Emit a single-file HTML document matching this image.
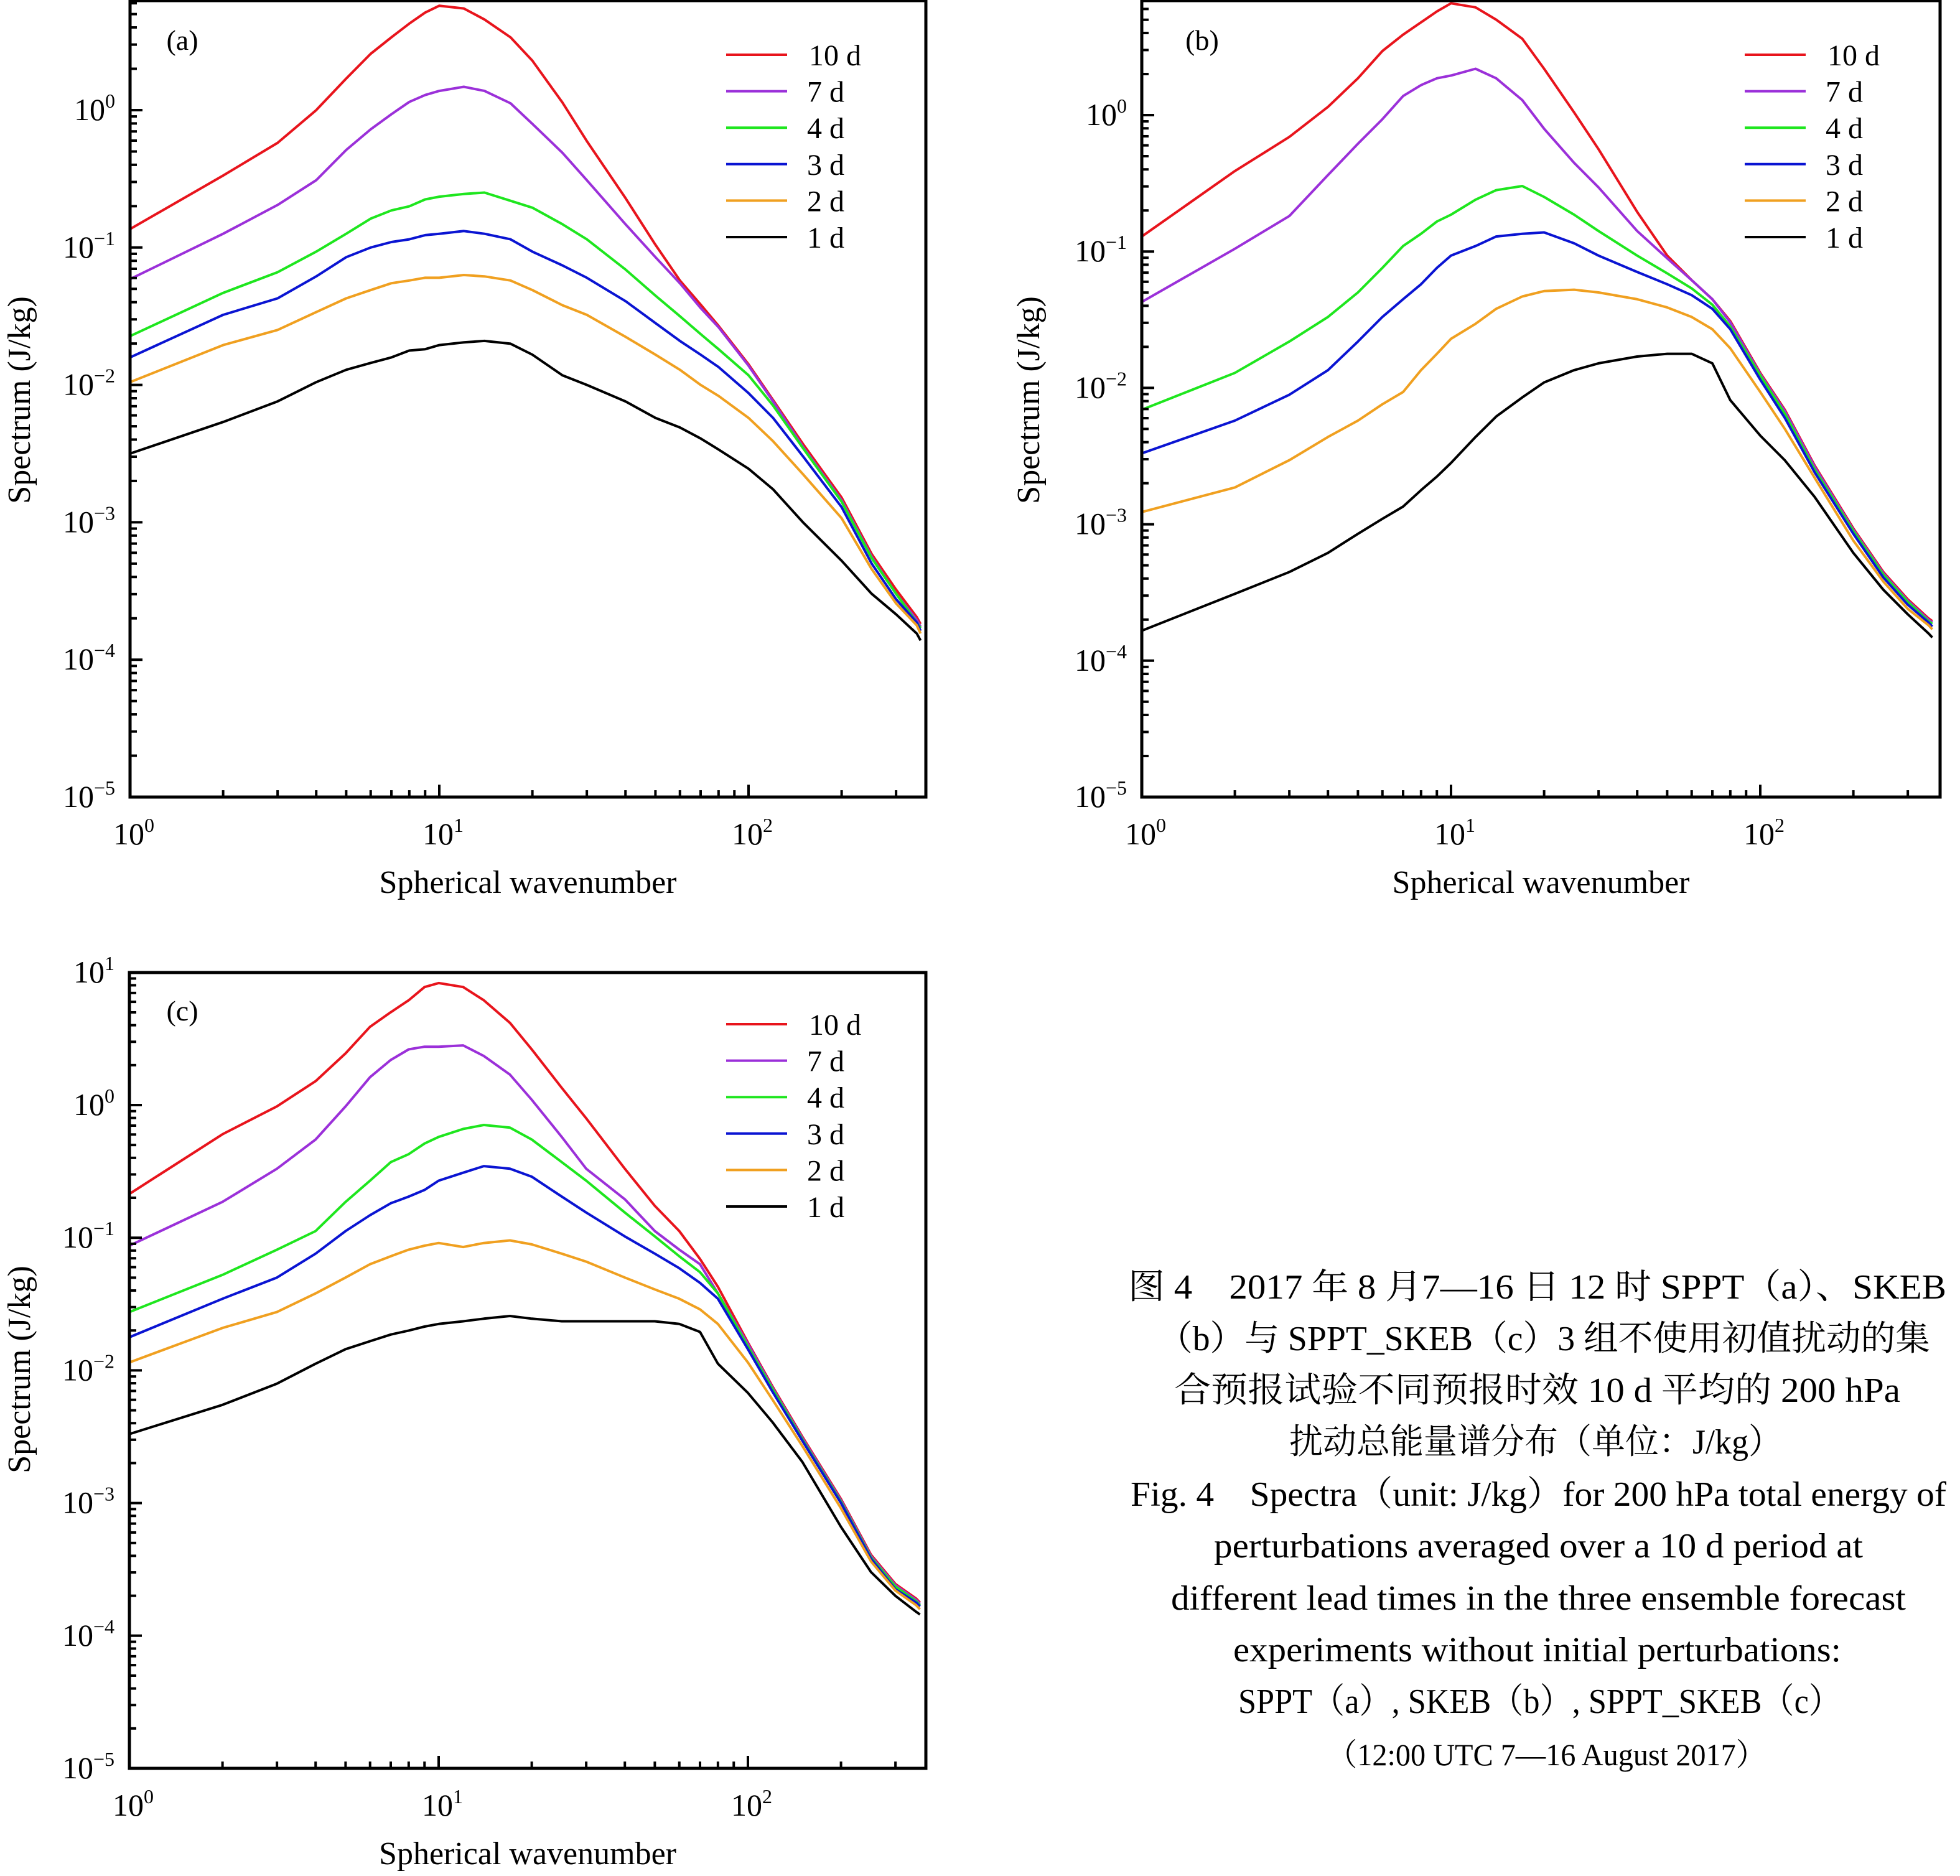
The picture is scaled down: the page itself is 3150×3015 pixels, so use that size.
<!DOCTYPE html>
<html><head><meta charset="utf-8"><style>
html,body{margin:0;padding:0;background:#fff;}
svg{display:block;}
svg, text{font-family:"Liberation Serif","Times New Roman","Noto Serif CJK SC",serif;fill:#000;}
</style></head>
<body>
<svg id="fig" width="3150" height="3015" viewBox="0 0 3150 3015" xmlns="http://www.w3.org/2000/svg" font-family="Liberation Serif, Noto Serif CJK SC, serif">
<g id="caption" font-size="56">
<text x="1813" y="2087" textLength="1315" lengthAdjust="spacingAndGlyphs">图 4　2017 年 8 月7—16 日 12 时 SPPT（a）、SKEB</text>
<text x="1861" y="2170" textLength="1241" lengthAdjust="spacingAndGlyphs">（b）与 SPPT_SKEB（c）3 组不使用初值扰动的集</text>
<text x="1887" y="2253" textLength="1167" lengthAdjust="spacingAndGlyphs">合预报试验不同预报时效 10 d 平均的 200 hPa</text>
<text x="2072" y="2336" textLength="792" lengthAdjust="spacingAndGlyphs">扰动总能量谱分布（单位：J/kg）</text>
<text x="1817" y="2420" textLength="1311" lengthAdjust="spacingAndGlyphs">Fig. 4　Spectra（unit: J/kg）for 200 hPa total energy of</text>
<text x="1951" y="2503" textLength="1043" lengthAdjust="spacingAndGlyphs">perturbations averaged over a 10 d period at</text>
<text x="1882" y="2587" textLength="1181" lengthAdjust="spacingAndGlyphs">different lead times in the three ensemble forecast</text>
<text x="1982" y="2670" textLength="977" lengthAdjust="spacingAndGlyphs">experiments without initial perturbations:</text>
<text x="1990" y="2753" textLength="969" lengthAdjust="spacingAndGlyphs">SPPT（a）, SKEB（b）, SPPT_SKEB（c）</text>
<text x="2133" y="2837" font-size="50" textLength="705" lengthAdjust="spacingAndGlyphs">（12:00 UTC 7—16 August 2017）</text>
</g>
</svg>
<script>
const K = [1,2,3,4,5,6,7,8,9,10,12,14,17,20,25,30,40,50,60,70,80,100,120,150,200,250,300,350,360];
const seriesNames = ["10 d","7 d","4 d","3 d","2 d","1 d"];
const seriesColors = ["#e8141c","#9b30d9","#1ee61e","#0a14d2","#f0a020","#000000"];
// log10 spectrum values, panel (a) SPPT
const a10 = [-0.866,-0.476,-0.238,0,0.23,0.41,0.53,0.63,0.71,0.76,0.74,0.66,0.53,0.36,0.056,-0.225,-0.64,-0.98,-1.24,-1.415,-1.57,-1.85,-2.11,-2.43,-2.82,-3.23,-3.49,-3.69,-3.74];
const a7 = [-1.23,-0.90,-0.69,-0.51,-0.29,-0.14,-0.03,0.06,0.11,0.14,0.17,0.14,0.05,-0.10,-0.31,-0.51,-0.83,-1.07,-1.26,-1.44,-1.58,-1.86,-2.12,-2.45,-2.84,-3.25,-3.52,-3.71,-3.76];
const a4 = [-1.645,-1.33,-1.18,-1.03,-0.90,-0.79,-0.73,-0.70,-0.65,-0.63,-0.61,-0.60,-0.66,-0.71,-0.83,-0.94,-1.16,-1.35,-1.50,-1.63,-1.74,-1.93,-2.15,-2.46,-2.85,-3.26,-3.52,-3.73,-3.77];
const a3 = [-1.80,-1.49,-1.37,-1.21,-1.07,-1.00,-0.96,-0.94,-0.91,-0.90,-0.88,-0.90,-0.94,-1.03,-1.13,-1.22,-1.39,-1.55,-1.68,-1.78,-1.87,-2.06,-2.24,-2.52,-2.89,-3.30,-3.56,-3.73,-3.79];
const a2 = [-1.98,-1.71,-1.60,-1.47,-1.37,-1.31,-1.26,-1.24,-1.22,-1.22,-1.20,-1.21,-1.24,-1.31,-1.42,-1.49,-1.65,-1.78,-1.89,-2.00,-2.08,-2.24,-2.41,-2.65,-2.97,-3.34,-3.59,-3.75,-3.81];
const a1 = [-2.50,-2.27,-2.12,-1.98,-1.89,-1.84,-1.80,-1.75,-1.74,-1.71,-1.69,-1.68,-1.70,-1.78,-1.93,-2.00,-2.12,-2.24,-2.31,-2.39,-2.47,-2.61,-2.76,-3.00,-3.28,-3.52,-3.67,-3.81,-3.86];
// panel (b) SKEB
const b10 = [-0.89,-0.41,-0.16,0.06,0.27,0.47,0.59,0.68,0.76,0.82,0.79,0.70,0.56,0.34,0.02,-0.25,-0.71,-1.03,-1.21,-1.35,-1.51,-1.89,-2.16,-2.57,-3.03,-3.35,-3.55,-3.69,-3.71];
const b7 = [-1.37,-0.98,-0.74,-0.44,-0.21,-0.03,0.14,0.22,0.27,0.29,0.34,0.27,0.11,-0.10,-0.35,-0.53,-0.85,-1.05,-1.21,-1.35,-1.52,-1.90,-2.17,-2.58,-3.04,-3.36,-3.56,-3.70,-3.72];
const b4 = [-2.16,-1.89,-1.66,-1.48,-1.30,-1.12,-0.96,-0.87,-0.78,-0.73,-0.62,-0.55,-0.52,-0.60,-0.73,-0.85,-1.03,-1.16,-1.27,-1.39,-1.55,-1.91,-2.19,-2.60,-3.05,-3.37,-3.57,-3.71,-3.73];
const b3 = [-2.48,-2.24,-2.05,-1.87,-1.66,-1.48,-1.35,-1.24,-1.12,-1.03,-0.96,-0.89,-0.87,-0.86,-0.94,-1.03,-1.15,-1.24,-1.32,-1.42,-1.57,-1.94,-2.22,-2.62,-3.07,-3.39,-3.59,-3.72,-3.75];
const b2 = [-2.91,-2.73,-2.53,-2.36,-2.24,-2.12,-2.03,-1.87,-1.75,-1.64,-1.53,-1.42,-1.33,-1.29,-1.28,-1.30,-1.35,-1.41,-1.48,-1.57,-1.71,-2.03,-2.30,-2.66,-3.12,-3.42,-3.62,-3.74,-3.77];
const b1 = [-3.78,-3.51,-3.35,-3.21,-3.07,-2.96,-2.87,-2.75,-2.65,-2.55,-2.36,-2.21,-2.07,-1.96,-1.87,-1.82,-1.77,-1.75,-1.75,-1.82,-2.09,-2.35,-2.53,-2.80,-3.21,-3.48,-3.66,-3.80,-3.83];
// panel (c) SPPT_SKEB
const c10 = [-0.67,-0.22,-0.01,0.18,0.39,0.59,0.70,0.79,0.89,0.92,0.89,0.79,0.62,0.42,0.13,-0.10,-0.48,-0.76,-0.95,-1.16,-1.37,-1.79,-2.12,-2.50,-2.97,-3.39,-3.61,-3.72,-3.75];
const c7 = [-1.06,-0.73,-0.48,-0.26,-0.01,0.21,0.34,0.42,0.44,0.44,0.45,0.37,0.23,0.04,-0.24,-0.48,-0.71,-0.95,-1.09,-1.20,-1.42,-1.80,-2.13,-2.51,-2.98,-3.40,-3.62,-3.73,-3.76];
const c4 = [-1.56,-1.28,-1.09,-0.95,-0.73,-0.57,-0.43,-0.37,-0.29,-0.24,-0.18,-0.15,-0.17,-0.26,-0.43,-0.57,-0.81,-0.99,-1.14,-1.26,-1.42,-1.82,-2.14,-2.52,-2.99,-3.41,-3.63,-3.74,-3.77];
const c3 = [-1.75,-1.46,-1.30,-1.12,-0.95,-0.83,-0.74,-0.69,-0.64,-0.57,-0.51,-0.46,-0.48,-0.54,-0.69,-0.81,-0.99,-1.12,-1.23,-1.34,-1.46,-1.84,-2.16,-2.53,-3.00,-3.42,-3.65,-3.75,-3.78];
const c2 = [-1.94,-1.68,-1.56,-1.42,-1.30,-1.20,-1.14,-1.09,-1.06,-1.04,-1.07,-1.04,-1.02,-1.05,-1.12,-1.18,-1.30,-1.39,-1.46,-1.54,-1.65,-1.94,-2.22,-2.57,-3.04,-3.44,-3.66,-3.77,-3.80];
const c1 = [-2.48,-2.26,-2.10,-1.95,-1.84,-1.78,-1.73,-1.70,-1.67,-1.65,-1.63,-1.61,-1.59,-1.61,-1.63,-1.63,-1.63,-1.63,-1.65,-1.71,-1.95,-2.17,-2.39,-2.69,-3.18,-3.52,-3.70,-3.82,-3.84];
const yTickExps = [-5,-4,-3,-2,-1,0,1];
const xTickExps = [0,1,2];
const panelLabels = ["(a)","(b)","(c)"];

const NS = "http://www.w3.org/2000/svg";
const svg = document.getElementById("fig");
function mk(tag, attrs, parent){const e=document.createElementNS(NS,tag);for(const k in attrs)e.setAttribute(k,attrs[k]);(parent||svg).appendChild(e);return e;}

const panels = [
 {id:"a", L:209, R:1488, T:1, B:1281, yMinExp:-5, decade:220.8, data:[a10,a7,a4,a3,a2,a1], legX:1167, legY:88, ytitleX:30, ytitleY:643, xtY:1357, xtitleY:1435, lab:[293,80]},
 {id:"b", L:1835, R:3118, T:1, B:1281, yMinExp:-5, decade:219.2, data:[b10,b7,b4,b3,b2,b1], legX:2804, legY:88, ytitleX:1652, ytitleY:643, xtY:1357, xtitleY:1435, lab:[1932,80]},
 {id:"c", L:208, R:1488, T:1563, B:2842, yMinExp:-5, decade:213.2, data:[c10,c7,c4,c3,c2,c1], legX:1167, legY:1646, ytitleX:30, ytitleY:2201, xtY:2918, xtitleY:2996, lab:[293,1640]}
];
const xDecade = 497;

panels.forEach((p,pi)=>{
  const g = mk("g",{});
  
  
  const xs = k => p.L + Math.log10(k)*xDecade;
  const ys = lv => p.B - (lv - p.yMinExp)*p.decade;
  const clip = mk("clipPath",{id:"clip"+p.id},g);
  mk("rect",{x:p.L,y:p.T,width:p.R-p.L,height:p.B-p.T},clip);
  const sg = mk("g",{"clip-path":"url(#clip"+p.id+")"},g);
  p.data.forEach((arr,si)=>{
    const d = arr.map((v,i)=>(i?"L":"M")+xs(K[i]).toFixed(1)+","+ys(v).toFixed(1)).join(" ");
    const path = mk("path",{d:d,fill:"none",stroke:seriesColors[si],"stroke-width":4,"stroke-linejoin":"round"},sg);
    
    
  });
  const fr = mk("rect",{x:p.L,y:p.T,width:p.R-p.L,height:p.B-p.T,fill:"none",stroke:"#000","stroke-width":5},g);
  
  
  const yax = mk("g",{},g);
  
  
  yTickExps.forEach(e=>{
    for(let m=1;m<=9;m++){
      const lv = e+Math.log10(m); const y = ys(lv);
      if(y<p.T-1||y>p.B+1) continue;
      mk("line",{x1:p.L,x2:p.L+(m===1?20:11),y1:y,y2:y,stroke:"#000","stroke-width":4},yax);
    }
    const y = ys(e);
    if(y<p.T-30||y>p.B+5) return;
    const t = mk("text",{x:p.L-24,y:y+16,"text-anchor":"end","font-size":50},yax);
    
    
    t.textContent="10";
    const s = mk("tspan",{dy:-20,"font-size":32},t); s.textContent = e<0?"\u2212"+(-e):String(e);
  });
  const xax = mk("g",{},g);
  
  
  xTickExps.forEach(e=>{
    for(let m=1;m<=9;m++){
      const x = xs(m*Math.pow(10,e));
      if(x>p.R-2) continue;
      mk("line",{x1:x,x2:x,y1:p.B,y2:p.B-(m===1?20:11),stroke:"#000","stroke-width":4},xax);
    }
    const t = mk("text",{x:xs(Math.pow(10,e))+6,y:p.xtY,"text-anchor":"middle","font-size":50},xax);
    
    
    t.textContent="10";
    const s = mk("tspan",{dy:-20,"font-size":32},t); s.textContent=String(e);
  });
  const xt = mk("text",{x:(p.L+p.R)/2,y:p.xtitleY,"text-anchor":"middle","font-size":52},g);
  
  
  xt.textContent="Spherical wavenumber";
  const yt = mk("text",{x:p.ytitleX,y:p.ytitleY,"text-anchor":"middle","font-size":52,transform:"rotate(-90 "+p.ytitleX+" "+p.ytitleY+")",dy:18},g);
  
  
  yt.textContent="Spectrum (J/kg)";
  const pl = mk("text",{x:p.lab[0],y:p.lab[1],"text-anchor":"middle","font-size":46},g);
  
  
  pl.textContent = panelLabels[pi];
  const lg = mk("g",{},g);
  
  
  seriesNames.forEach((n,si)=>{
    const y = p.legY + si*58.6;
    const e = mk("g",{},lg);
    
    
    mk("line",{x1:p.legX,x2:p.legX+98,y1:y,y2:y,stroke:seriesColors[si],"stroke-width":4},e);
    const t = mk("text",{x:p.legX+133+(n.length<4?-3:0),y:y+17,"font-size":48},e);
    t.textContent = n;
  });
});
</script>
</body></html>
